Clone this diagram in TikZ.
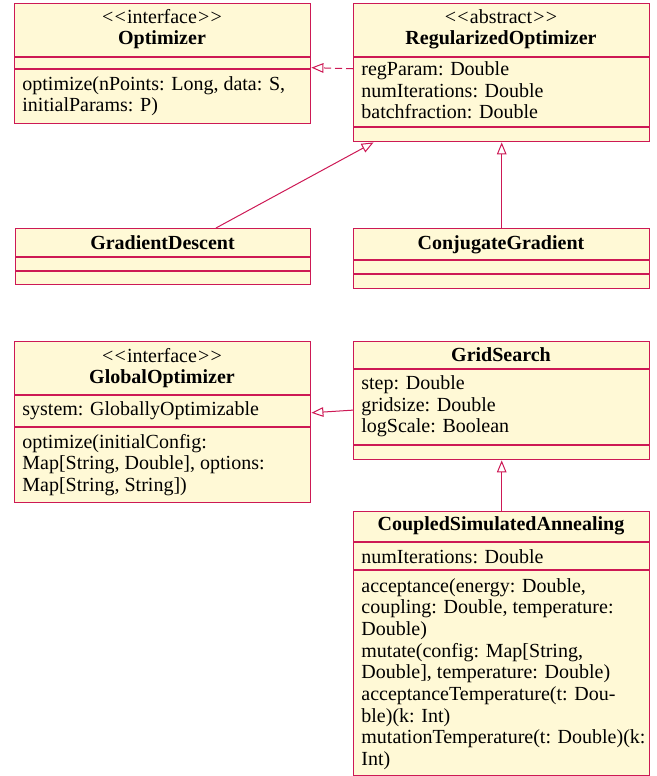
\documentclass[tikz,border=0pt]{standalone}
\usepackage{fontspec}
\setmainfont{Liberation Serif}
\usetikzlibrary{arrows.meta}
\definecolor{umlred}{RGB}{205,25,85}
\definecolor{umlfill}{RGB}{255,249,214}
\newcommand{\lt}{<\kern0.6pt<\kern0.6pt}
\newcommand{\gt}{\kern0.6pt>\kern0.6pt>}
\begin{document}
\begin{tikzpicture}[x=0.5pt, y=-0.5pt, font=\fontsize{10}{10.8}\selectfont]
\tikzset{
  umlbox/.style={draw=umlred, fill=umlfill, line width=0.7pt, inner sep=0pt, anchor=north west},
  sepline/.style={draw=umlred, line width=0.7pt},
  ltext/.style={anchor=base west, inner sep=0pt},
  ctext/.style={anchor=base, inner sep=0pt},
  btext/.style={anchor=base, inner sep=0pt, font=\fontsize{10}{10.8}\selectfont\bfseries},
  inherit/.style={draw=umlred, line width=0.5pt, -{Triangle[open, length=6pt, width=4.8pt]}},
  realize/.style={inherit, dash pattern=on 3.5pt off 2pt},
}
\useasboundingbox (0,0) rectangle (657,776);

% Optimizer
\node[umlbox, minimum width=148pt, minimum height=60pt] (opt) at (14,3) {};
\draw[sepline] (14,57) -- (310,57);
\draw[sepline] (14,69) -- (310,69);
\node[ctext] (opt-s) at (162,23.5) {\lt interface\gt};
\node[btext] (opt-n) at (162,44.5) {Optimizer};
\node[ltext] (opt-m1) at (22,90) {optimize(nPoints: Long, data: S,};
\node[ltext] (opt-m2) at (22,111.6) {initialParams: P)};

% RegularizedOptimizer
\node[umlbox, minimum width=148pt, minimum height=69pt] (reg) at (353,3) {};
\draw[sepline] (353,57) -- (649,57);
\draw[sepline] (353,127) -- (649,127);
\node[ctext] (reg-s) at (501,23.5) {\lt abstract\gt};
\node[btext] (reg-n) at (501,44.5) {RegularizedOptimizer};
\node[ltext] (reg-a1) at (361,75.5) {regParam: Double};
\node[ltext] (reg-a2) at (361,97) {numIterations: Double};
\node[ltext] (reg-a3) at (361,118.6) {batchfraction: Double};

% GradientDescent
\node[umlbox, minimum width=147.5pt, minimum height=28pt] (gd) at (15,228) {};
\draw[sepline] (15,257) -- (310,257);
\draw[sepline] (15,271) -- (310,271);
\node[btext] (gd-n) at (162.5,249) {GradientDescent};

% ConjugateGradient
\node[umlbox, minimum width=148pt, minimum height=30pt] (cg) at (353,228) {};
\draw[sepline] (353,260) -- (649,260);
\draw[sepline] (353,274) -- (649,274);
\node[btext] (cg-n) at (501,249) {ConjugateGradient};

% GlobalOptimizer
\node[umlbox, minimum width=148pt, minimum height=80.5pt] (go) at (14,341) {};
\draw[sepline] (14,395) -- (310,395);
\draw[sepline] (14,427) -- (310,427);
\node[ctext] (go-s) at (162,362.5) {\lt interface\gt};
\node[btext] (go-n) at (162,383.5) {GlobalOptimizer};
\node[ltext] (go-a1) at (22,415.5) {system: GloballyOptimizable};
\node[ltext] (go-m1) at (22,448) {optimize(initialConfig:};
\node[ltext] (go-m2) at (22,469.6) {Map[String, Double], options:};
\node[ltext] (go-m3) at (22,491.2) {Map[String, String])};

% GridSearch
\node[umlbox, minimum width=148pt, minimum height=59pt] (gs) at (353,341) {};
\draw[sepline] (353,369) -- (649,369);
\draw[sepline] (353,445) -- (649,445);
\node[btext] (gs-n) at (501,361.5) {GridSearch};
\node[ltext] (gs-a1) at (361,389.5) {step: Double};
\node[ltext] (gs-a2) at (361,411) {gridsize: Double};
\node[ltext] (gs-a3) at (361,432.6) {logScale: Boolean};

% CoupledSimulatedAnnealing
\node[umlbox, minimum width=148pt, minimum height=132pt] (csa) at (353,511) {};
\draw[sepline] (353,542) -- (649,542);
\draw[sepline] (353,570) -- (649,570);
\node[btext] (csa-n) at (501,530.5) {CoupledSimulatedAnnealing};
\node[ltext] (csa-a1) at (361,563) {numIterations: Double};
\node[ltext] (csa-m1) at (361,592) {acceptance(energy: Double,};
\node[ltext] (csa-m2) at (361,613.7) {coupling: Double, temperature:};
\node[ltext] (csa-m3) at (361,635.4) {Double)};
\node[ltext] (csa-m4) at (361,657.1) {mutate(config: Map[String,};
\node[ltext] (csa-m5) at (361,678.8) {Double], temperature: Double)};
\node[ltext] (csa-m6) at (361,700.5) {acceptanceTemperature(t: Dou-};
\node[ltext] (csa-m7) at (361,722.2) {ble)(k: Int)};
\node[ltext] (csa-m8) at (361,743.9) {mutationTemperature(t: Double)(k:};
\node[ltext] (csa-m9) at (361,765.6) {Int)};

% connectors
\draw[realize] (reg) -- (opt);
\draw[inherit] (gd) -- (reg);
\draw[inherit] (cg) -- (reg);
\draw[inherit] (gs) -- (go);
\draw[inherit] (csa) -- (gs);
\end{tikzpicture}
\end{document}
